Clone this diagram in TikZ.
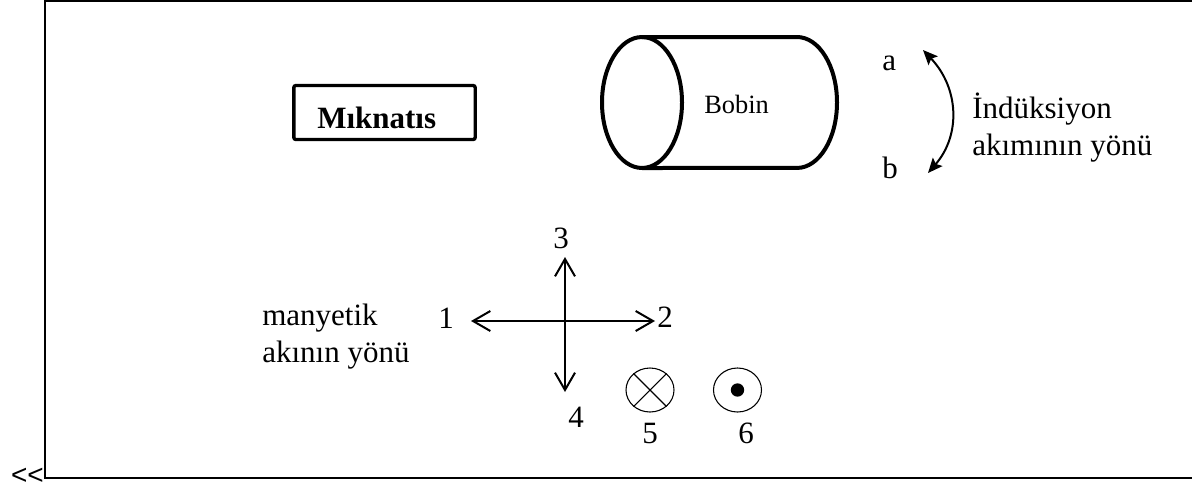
\documentclass[tikz,border=0pt]{standalone}
\usepackage{fontspec}
\setmainfont{Liberation Serif}
\newfontfamily\arrowsans{Liberation Sans}
\usetikzlibrary{arrows.meta,shapes.geometric}
\begin{document}
\begin{tikzpicture}[x=0.75pt,y=-0.75pt,
  txt/.style={inner sep=0pt,anchor=base west,font=\fontsize{23.25}{27.75}\selectfont},
  smalltxt/.style={inner sep=0pt,anchor=base west,font=\fontsize{19.8}{24}\selectfont},
  frameline/.style={line width=1.3pt},
  thickline/.style={line width=3pt},
  axisarrow/.style={line width=1.5pt,{Straight Barb[length=13pt,width=15pt]}-{Straight Barb[length=13pt,width=15pt]}},
  curarrow/.style={line width=1.5pt,{Stealth[length=11pt,width=9.5pt,inset=2pt]}-{Stealth[length=11pt,width=9.5pt,inset=2pt]}},
  fluxcirc/.style={draw,ellipse,line width=0.8pt,minimum width=36pt,minimum height=33pt,inner sep=0pt}
]
\useasboundingbox (0,0) rectangle (1192,487);

% outer frame
\draw[frameline] (1194,1) -- (45,1) -- (45,478) -- (1194,478);
\node[inner sep=0pt,anchor=base east,font=\arrowsans\fontsize{21}{24}\selectfont] (ltlt) at (44,484) {{<}\kern0pt{<}};

% magnet
\node[draw,line width=2.5pt,rounded corners=1.5pt,minimum width=136pt,minimum height=40.5pt,inner sep=0pt] (magbox) at (384.5,112.5) {};
\node[txt] (magtext) at (317,128) {\bfseries Mıknatıs};

% coil (cylinder)
\draw[thickline] (642,102.5) ellipse [x radius=30pt, y radius=49.1pt];
\draw[thickline] (642,37) -- (797,37) arc [start angle=90, end angle=-90, x radius=30pt, y radius=49.1pt] -- (642,168);
\node[smalltxt] (bobin) at (704,113) {Bobin};

% induction current direction
\node[txt] (la) at (882,70) {a};
\node[txt] (lb) at (882,178) {b};
\coordinate (atip) at (923,50);
\coordinate (btip) at (928,173);
\draw[curarrow] (atip) .. controls (959,88) and (961,135) .. (btip);
\node[txt] (ind1) at (972,118) {İndüksiyon};
\node[txt] (ind2) at (972,155) {akımının yönü};

% magnetic flux directions
\node[txt] (mf1) at (262,325) {manyetik};
\node[txt] (mf2) at (262,362) {akının yönü};

\coordinate (t1) at (471,321);
\coordinate (t2) at (655,321);
\coordinate (t3) at (565,257);
\coordinate (t4) at (565,392);
\draw[axisarrow] (t1) -- (t2);
\draw[axisarrow] (t3) -- (t4);
\node[txt] (n1) at (438,328) {1};
\node[txt] (n2) at (657,327) {2};
\node[txt] (n3) at (553,248) {3};
\node[txt] (n4) at (568,427) {4};

\node[fluxcirc] (into) at (650,390) {};
\draw[line width=0.8pt] (into.45) -- (into.225);
\draw[line width=0.8pt] (into.135) -- (into.315);
\node[fluxcirc] (outof) at (737.5,390) {};
\fill (outof.center) circle [radius=5pt];
\node[txt] (n5) at (642,443) {5};
\node[txt] (n6) at (738,443) {6};
\end{tikzpicture}
\end{document}
